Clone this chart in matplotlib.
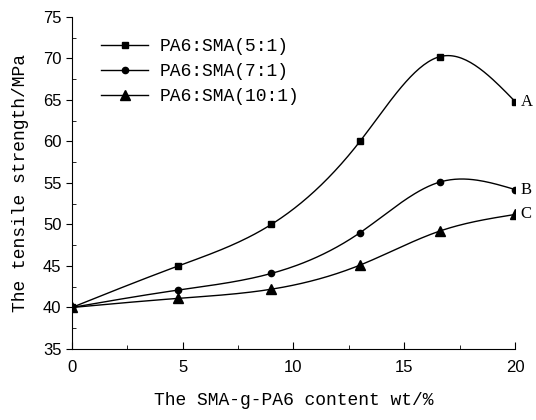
import matplotlib.pyplot as plt
import numpy as np
from matplotlib.ticker import MultipleLocator

x = [0, 4.8, 9.0, 13.0, 16.6, 20.0]
a_vals = [40, 45, 50, 60, 70.2, 64.8]
b_vals = [40, 42.1, 44.1, 49, 55.1, 54.2]
c_vals = [40, 41.1, 42.2, 45.1, 49.2, 51.2]
labels = ['PA6:SMA(5:1)', 'PA6:SMA(7:1)', 'PA6:SMA(10:1)']
end_tags = ['A', 'B', 'C']


def spline(xs, ys, n=200):
    # natural cubic spline, like the smooth line in the original
    xs = np.asarray(xs, float)
    ys = np.asarray(ys, float)
    k = len(xs)
    h = np.diff(xs)
    m = np.zeros((k, k))
    r = np.zeros(k)
    m[0, 0] = m[-1, -1] = 1
    for i in range(1, k - 1):
        m[i, i - 1] = h[i - 1]
        m[i, i] = 2 * (h[i - 1] + h[i])
        m[i, i + 1] = h[i]
        r[i] = 6 * ((ys[i + 1] - ys[i]) / h[i] - (ys[i] - ys[i - 1]) / h[i - 1])
    M = np.linalg.solve(m, r)
    xx = np.linspace(xs[0], xs[-1], n)
    idx = np.clip(np.searchsorted(xs, xx) - 1, 0, k - 2)
    x0, x1 = xs[idx], xs[idx + 1]
    hh = x1 - x0
    t0, t1 = x1 - xx, xx - x0
    yy = (M[idx] * t0 ** 3 + M[idx + 1] * t1 ** 3) / (6 * hh) \
        + (ys[idx] / hh - M[idx] * hh / 6) * t0 \
        + (ys[idx + 1] / hh - M[idx + 1] * hh / 6) * t1
    return xx, yy


mono = 'Liberation Mono'
fig = plt.figure(figsize=(5.36, 4.2), dpi=100)
ax = fig.add_axes([0.134, 0.169, 0.827, 0.791])

markers = ['s', 'o', '^']
msizes = [4.5, 4.5, 6.5]
for vals, lab, mk, ms, tag in zip([a_vals, b_vals, c_vals], labels, markers, msizes, end_tags):
    xx, yy = spline(x, vals)
    ax.plot(xx, yy, color='black', lw=1.0)
    ax.plot(x, vals, ls='none', marker=mk, ms=ms, color='black')
    ax.plot([], [], color='black', lw=1.0, marker=mk, ms=ms, label=lab)
    ax.text(20.25, vals[-1], tag, fontsize=12, family='Liberation Serif',
            va='center', ha='left', clip_on=False)

ax.set_xlim(0, 20)
ax.set_ylim(35, 75)
ax.xaxis.set_major_locator(MultipleLocator(5))
ax.xaxis.set_minor_locator(MultipleLocator(2.5))
ax.yaxis.set_major_locator(MultipleLocator(5))
ax.yaxis.set_minor_locator(MultipleLocator(2.5))
ax.tick_params(axis='x', direction='in', length=5, labelsize=12, pad=8)
ax.tick_params(axis='x', which='minor', direction='in', length=3)
ax.tick_params(axis='y', direction='out', length=4, labelsize=12)
ax.tick_params(axis='y', which='minor', direction='in', length=3)
for lbl in ax.get_xticklabels() + ax.get_yticklabels():
    lbl.set_family('Liberation Sans')
ax.spines['top'].set_visible(False)
ax.spines['right'].set_visible(False)

ax.set_xlabel('The SMA-g-PA6 content wt/%', family=mono, fontsize=13, labelpad=12)
ax.set_ylabel('The tensile strength/MPa', family=mono, fontsize=13, labelpad=10)

ax.legend(loc='upper left', bbox_to_anchor=(0.03, 0.985), frameon=False,
          prop={'family': mono, 'size': 13}, handlelength=2.6, labelspacing=0.45,
          handletextpad=0.6)

fig.savefig('out.png', dpi=100)
